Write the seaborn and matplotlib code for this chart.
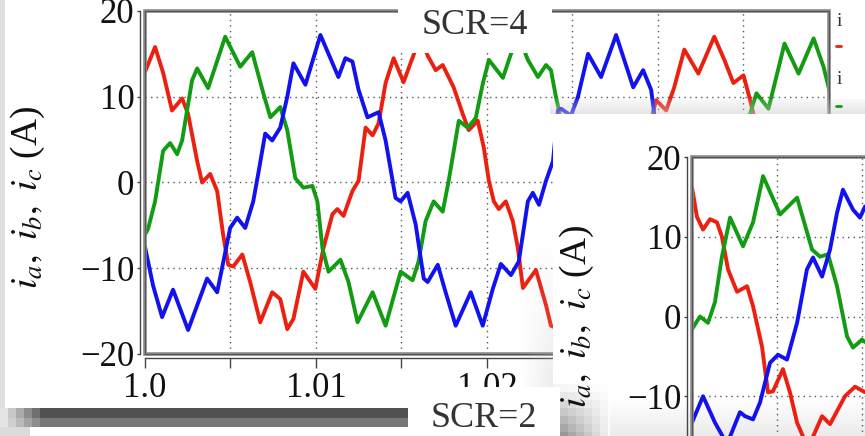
import numpy as np
import pandas as pd
import matplotlib
matplotlib.use("Agg")
import matplotlib.pyplot as plt
import seaborn as sns
from matplotlib.patches import Rectangle

# ---------------- data (time in ms after t = 1.0 s, current in A) ----------------
# SCR=4 panel (main), visible segments
red4_a_ms = [0.00, 0.59, 1.06, 1.58, 2.17, 2.52, 3.05, 3.34, 3.81, 4.22, 4.57, 4.87, 5.16, 5.69,
             6.15, 6.74, 7.44, 7.91, 8.32, 8.68, 9.26, 9.96, 10.43, 10.96, 11.25, 11.61, 12.13,
             12.49, 12.90, 13.31, 13.66, 14.07, 14.54, 15.12, 15.71, 16.12, 16.53, 17.00, 17.41,
             18.05, 18.58, 18.93, 19.46, 19.81, 20.11, 20.40, 20.69, 21.10, 21.51, 21.81, 22.10,
             22.86, 23.45, 23.74, 24.09]
red4_a_A = [12.9, 15.8, 12.8, 8.4, 9.8, 8.0, 2.5, 0.0, 1.0, -1.0, -6.1, -9.6, -9.8, -8.4,
            -11.6, -16.3, -12.8, -13.6, -17.1, -15.9, -10.4, -12.4, -7.7, -3.7, -3.1, -3.9, -1.0,
            0.2, 6.4, 5.5, 6.9, 11.6, 14.5, 11.7, 14.9, 17.0, 14.8, 13.1, 13.7,
            11.1, 8.0, 6.1, 7.2, 4.1, 0.2, -2.2, -3.1, -2.2, -4.5, -7.7, -12.3,
            -10.2, -14.3, -16.7, -17.0]
red4_b_ms = [29.66, 29.89, 30.48, 30.95, 31.54, 32.36, 33.29, 33.88, 34.41, 35.00, 35.35, 35.58, 35.76]
red4_b_A = [7.8, 9.6, 8.4, 11.1, 15.5, 12.7, 17.0, 14.3, 11.6, 12.5, 9.9, 8.0, 6.0]

green4_a_ms = [0.00, 0.18, 0.59, 1.06, 1.47, 1.88, 2.17, 2.75, 3.05, 3.69, 4.69, 5.57, 6.27, 6.92,
               7.33, 7.91, 8.32, 8.79, 9.26, 9.79, 10.08, 10.38, 10.73, 11.43, 11.90, 12.43, 13.31,
               14.07, 14.95, 15.65, 16.00, 16.41, 16.88, 17.41, 17.76, 18.35, 18.87, 19.34, 19.75,
               20.11, 20.93, 21.40, 21.86, 22.39, 22.98, 23.45, 23.74, 24.03, 24.21, 24.44]
green4_a_A = [-6.1, -5.4, -2.2, 3.7, 4.6, 3.3, 4.9, 11.9, 13.3, 11.0, 17.0, 13.5, 15.2, 10.4,
              7.6, 8.8, 6.1, 0.5, -0.6, -0.4, -2.2, -7.7, -10.4, -9.0, -11.6, -16.3, -12.8,
              -16.7, -10.4, -11.4, -9.2, -4.5, -2.2, -3.4, 0.2, 7.2, 6.4, 7.5, 11.5,
              14.3, 12.2, 15.0, 17.0, 14.3, 12.3, 13.7, 13.1, 10.0, 8.4, 6.0]
green4_b_ms = [35.23, 35.35, 35.76, 36.46, 37.40, 38.22, 39.10, 39.68, 40.09]
green4_b_A = [6.5, 7.8, 10.4, 8.6, 16.2, 12.7, 16.8, 13.5, 10.2]

blue4_ms = [0.00, 0.47, 1.00, 1.64, 2.52, 3.63, 4.22, 4.98, 5.39, 5.86, 6.33, 6.62, 7.03, 7.44,
            7.91, 8.32, 8.68, 9.38, 10.26, 11.31, 11.72, 12.13, 12.49, 13.01, 13.66, 14.07,
            14.48, 14.65, 14.95, 15.36, 15.83, 16.30, 16.53, 17.12, 17.58, 18.17, 19.05, 19.75,
            20.34, 20.81, 21.40, 21.86, 22.39, 22.68, 23.04, 23.45, 23.86, 24.15, 24.33, 24.91,
            25.32, 25.91, 26.67, 27.55, 28.55, 29.13, 29.60, 29.78, 29.95]
blue4_A = [-7.5, -12.0, -15.7, -12.5, -17.2, -11.2, -12.8, -5.3, -4.1, -5.3, -2.2, 1.0, 5.7, 4.9,
           6.4, 10.0, 13.9, 11.4, 17.2, 12.3, 14.5, 14.1, 10.8, 7.6, 8.2, 4.9,
           0.2, -1.8, -2.2, -1.2, -4.9, -11.2, -11.6, -9.6, -12.8, -16.7, -12.8, -16.7,
           -12.4, -9.5, -10.8, -9.2, -2.2, -1.2, -2.6, 0.2, 2.5, 8.4, 8.6, 7.8,
           10.0, 15.0, 12.3, 17.2, 11.1, 13.1, 10.8, 8.0, 6.0]

# SCR=2 panel (inset)
red2_ms = [0.00, 0.29, 0.65, 1.06, 1.47, 1.76, 2.12, 2.65, 3.24, 3.59, 4.12, 4.47, 4.76, 5.35,
           5.76, 6.18, 6.82, 7.65, 8.12, 9.00, 9.59, 10.18]
red2_A = [16.2, 12.5, 10.9, 12.2, 11.8, 10.0, 5.9, 3.1, 3.8, 1.3, -3.8, -9.5, -9.4, -6.6,
          -9.5, -13.3, -16.5, -12.5, -13.5, -10.0, -8.8, -9.5]
green2_ms = [0.00, 0.47, 0.94, 1.35, 1.76, 2.24, 3.00, 3.59, 4.18, 5.18, 6.18, 7.06, 7.53, 8.00,
             8.53, 9.12, 9.47, 10.00, 10.18]
green2_A = [-1.6, 0.0, -0.8, 1.8, 7.5, 12.4, 8.8, 11.8, 17.6, 12.8, 14.9, 8.4, 7.5, 7.8,
            3.8, -2.5, -3.9, -2.9, -3.2]
blue2_ms = [0.00, 0.65, 1.35, 2.06, 2.82, 3.12, 3.59, 4.00, 4.59, 5.06, 5.59, 6.18, 6.76, 7.12,
            7.65, 8.12, 8.53, 8.88, 9.47, 9.88, 10.18]
blue2_A = [-13.3, -10.0, -13.3, -16.0, -12.0, -12.5, -12.9, -10.8, -5.8, -4.8, -5.4, -0.8, 5.9, 7.4,
           5.0, 8.4, 13.0, 15.9, 13.4, 12.4, 13.8]

phases = ["ia", "ib", "ic"]
colors = {"ia": "#ec2010", "ib": "#139c13", "ic": "#1212ee"}
x_ticks = [1.0, 1.005, 1.01, 1.015, 1.02, 1.025, 1.03, 1.035, 1.04]
x_labels_main = ["1.0", "", "1.01", "", "1.02", "", "", "", ""]
x_labels_inset = ["", "", "", "", "", "", "", "", ""]
y_ticks = [-20, -10, 0, 10, 20]
y_labels_main = ["\u221220", "\u221210", "0", "10", "20"]
y_labels_inset = ["", "\u221210", "0", "10", "20"]
ylab = r"$i_a,\ i_b,\ i_c\ $(A)"


def frame(parts):
    rows = []
    for phase, seg, ms, amps in parts:
        for m, a in zip(ms, amps):
            rows.append({"t": 1.0 + m / 1000.0, "i": a, "phase": phase, "seg": seg})
    return pd.DataFrame(rows)


df4 = frame([("ia", 0, red4_a_ms, red4_a_A), ("ia", 1, red4_b_ms, red4_b_A),
             ("ib", 2, green4_a_ms, green4_a_A), ("ib", 3, green4_b_ms, green4_b_A),
             ("ic", 4, blue4_ms, blue4_A)])
df2 = frame([("ia", 0, red2_ms, red2_A), ("ib", 1, green2_ms, green2_A),
             ("ic", 2, blue2_ms, blue2_A)])

sns.set_theme(style="white")
plt.rcParams["font.family"] = ["Liberation Serif", "DejaVu Serif"]
plt.rcParams["mathtext.fontset"] = "stix"
plt.rcParams["lines.solid_joinstyle"] = "round"
plt.rcParams["lines.solid_capstyle"] = "round"

W, H = 865, 436
fig = plt.figure(figsize=(W / 100, H / 100), dpi=100)
fig.patch.set_facecolor("white")


def style(ax, xlabels, ylabels):
    ax.set_facecolor("none")
    ax.set_xlim(1.0, 1.04)
    ax.set_ylim(-20, 20)
    ax.set_xticks(x_ticks)
    ax.set_xticklabels(xlabels)
    ax.set_yticks(y_ticks)
    ax.set_yticklabels(ylabels)
    ax.set_xlabel("")
    ax.set_ylabel("")
    for s in ["top", "right"]:
        ax.spines[s].set_visible(False)
    ax.spines["left"].set_position(("outward", 3.6))
    ax.spines["bottom"].set_position(("outward", 3.0))
    for s in ["left", "bottom"]:
        ax.spines[s].set_color("#444444")
        ax.spines[s].set_linewidth(1.0)
    ax.tick_params(axis="y", length=2.5, width=1, pad=1.5, labelsize=25,
                   color="#444444", labelcolor="#111111", left=True)
    ax.tick_params(axis="x", length=7, width=1, pad=3, labelsize=25,
                   color="#444444", labelcolor="#111111", bottom=True)
    for v in x_ticks[1:-1]:
        ax.axvline(v, ls=(0, (1, 3)), color="#555555", lw=1.0, zorder=1)
    for h in [-10, 0, 10]:
        ax.axhline(h, ls=(0, (1, 3)), color="#555555", lw=1.0, zorder=1)
    ax.add_patch(Rectangle((0, 0), 1, 1, transform=ax.transAxes, fill=False,
                           ec="#8a8a8a", lw=2.6, clip_on=False, zorder=4))
    ax.add_patch(Rectangle((0, 0), 1, 1, transform=ax.transAxes, fill=False,
                           ec="#555555", lw=0.8, clip_on=False, zorder=4))


# main panel (SCR=4)
ax = fig.add_axes([145 / W, (H - 354) / H, 684 / W, 343 / H], zorder=0)
sns.lineplot(data=df4, x="t", y="i", hue="phase", hue_order=phases, units="seg",
             estimator=None, sort=False, palette=colors, lw=2.8, legend=False, ax=ax)
style(ax, x_labels_main, y_labels_main)

# shadows and the overlapping panel background (pixel image)
yy, xx = np.mgrid[0:H, 0:W]
rgb = np.ones((H, W))
alpha = np.zeros((H, W))
m = (xx < 5) & (yy < 408)
rgb[m] = 0.88; alpha[m] = 1
bx = (np.floor(xx / 8) * 8)
fade = np.clip((40 - bx) / 40, 0, 1)
m = (yy >= 408) & (yy < 418) & (xx < 410)
rgb[m] = (0.32 + (0.9 - 0.32) * fade)[m]; alpha[m] = 1
m = (yy >= 418) & (yy < 427) & (xx < 410)
rgb[m] = (0.47 + (0.9 - 0.47) * fade)[m]; alpha[m] = 1
m = (yy >= 427) & (xx < 30)
rgb[m] = 0.86; alpha[m] = 1
m = (yy >= 100) & (yy < 115) & (xx >= 550)
rgb[m] = 0.80; alpha[m] = (0.12 + 0.4 * (yy - 100) / 15)[m]
m = (xx >= 520) & (xx < 553) & (yy >= 240) & (yy < 408)
alpha[m] = (0.35 * ((xx - 520) / 33) * ((yy - 240) / 168))[m]; rgb[m] = 0.75
m = (xx >= 553) & (yy >= 115)
rgb[m] = 1; alpha[m] = 1
m = (xx >= 605) & (yy >= 398)
rgb[m] = (1 - 0.08 * (yy - 398) / 38)[m]
by = np.floor(yy / 8) * 8
m = (xx >= 553) & (xx < 610) & (yy >= 380)
rgb[m] = (1 - 0.5 * np.clip((by - 380) / 56, 0, 1) * np.clip(1 - (bx - 553) / 57, 0, 1))[m]
img = np.dstack([rgb, rgb, rgb, alpha])
ax_bg = fig.add_axes([0, 0, 1, 1], zorder=0.5)
ax_bg.imshow(img, extent=(0, W, H, 0), interpolation="nearest", aspect="auto")
ax_bg.set_xlim(0, W); ax_bg.set_ylim(H, 0)
ax_bg.axis("off")

# inset panel (SCR=2)
ax2 = fig.add_axes([692 / W, (H - 476) / H, 680 / W, 319 / H], zorder=1)
sns.lineplot(data=df2, x="t", y="i", hue="phase", hue_order=phases, units="seg",
             estimator=None, sort=False, palette=colors, lw=2.8, legend=False, ax=ax2)
style(ax2, x_labels_inset, y_labels_inset)

# annotations on top
ax_top = fig.add_axes([0, 0, 1, 1], zorder=3)
ax_top.set_xlim(0, W); ax_top.set_ylim(H, 0)
ax_top.axis("off")
ax_top.add_patch(Rectangle((398, -2), 154, 55, fc="white", ec="none"))
ax_top.text(475, 26, "SCR=4", ha="center", va="center", fontsize=26, color="#333333")
ax_top.add_patch(Rectangle((408, 387), 152, 52, fc="white", ec="none"))
ax_top.text(484, 418, "SCR=2", ha="center", va="center", fontsize=26, color="#333333")
ax_top.text(28, 197, ylab, rotation=90, ha="center", va="center", fontsize=27, color="#111111")
ax_top.text(577, 316, ylab, rotation=90, ha="center", va="center", fontsize=27, color="#111111")
ax_top.text(837, 22, "i", ha="left", va="center", fontsize=14, color="#333333")
ax_top.plot([836, 841], [46, 46], color=colors["ia"], lw=2)
ax_top.text(837, 80, "i", ha="left", va="center", fontsize=14, color="#333333")
ax_top.plot([836, 841], [106, 106], color=colors["ib"], lw=2)

fig.savefig("out.png", dpi=100)
